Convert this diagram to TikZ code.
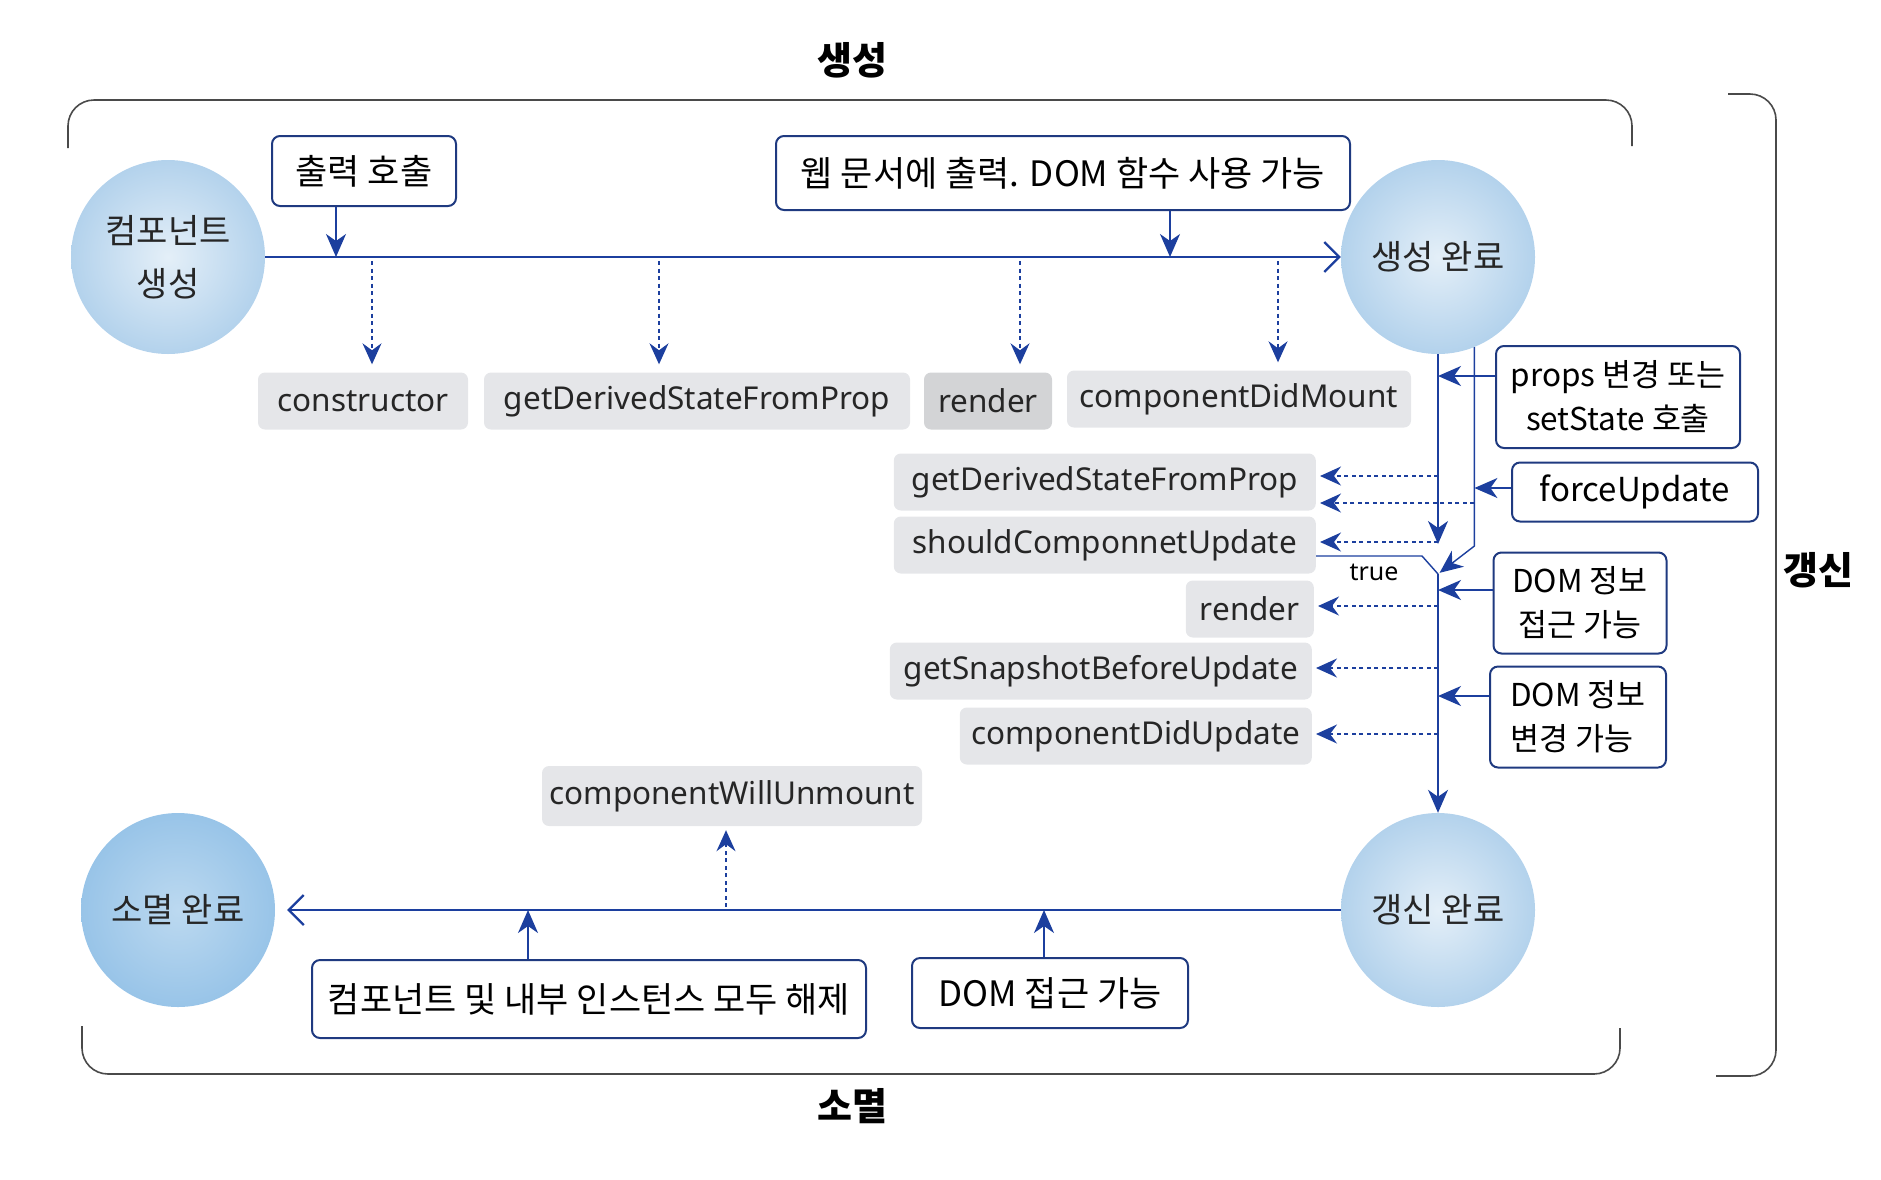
\documentclass[tikz,border=0pt]{standalone}
\usepackage{fontspec}
\setmainfont{Noto Sans CJK KR}
\newfontfamily\latinfont{Noto Sans}
\usepackage{xcolor}
\usetikzlibrary{arrows.meta, positioning}
\definecolor{flowblue}{HTML}{1C3F9E}
\definecolor{boxnavy}{HTML}{1F3A80}
\definecolor{hookgray}{HTML}{E5E6E9}
\definecolor{stageblue}{HTML}{B3D2EC}
\definecolor{stagelight}{HTML}{E4EFF8}
\definecolor{gonedeep}{HTML}{98C4E8}
\definecolor{gonelight}{HTML}{BCD9F0}
\definecolor{framegray}{HTML}{4A4A4A}
\definecolor{inkgray}{HTML}{262626}

\begin{document}
\begin{tikzpicture}[x=1pt, y=-1pt,
    stage/.style={circle, minimum size=194pt, inner sep=0pt, align=center,
        inner color=stagelight, outer color=stageblue, text=inkgray,
        font=\fontsize{34}{53}\selectfont},
    note/.style={draw=boxnavy, line width=2pt, rounded corners=8pt, fill=white,
        align=center, inner sep=0pt, font=\fontsize{35}{44}\selectfont},
    small note/.style={note, font=\fontsize{31.5}{44}\selectfont},
    hook/.style={fill=hookgray, rounded corners=7pt, inner sep=0pt, text=inkgray,
        minimum height=57pt, font=\latinfont\fontsize{31.5}{36}\selectfont},
    flow/.style={draw=flowblue, line width=2.2pt},
    call/.style={draw=flowblue, line width=1.6pt, -{Stealth[length=23pt, width=20pt, inset=7pt]}},
    hookcall/.style={draw=flowblue, line width=1.4pt, dash pattern=on 4pt off 3.5pt,
        -{Stealth[length=21pt, width=19pt, inset=7pt]}},
    bracket/.style={draw=framegray, line width=1.6pt, rounded corners=26pt},
    phase/.style={font=\bfseries\fontsize{38}{44}\selectfont},
    ]
\useasboundingbox (0,0) rectangle (1881,1179);

\node[phase] (tmount) at (852,60) {생성};
\node[phase] (tunmount) at (852,1106) {소멸};
\node[phase] (tupdate) at (1818,570) {갱신};
\draw[bracket] (68,148) -- (68,100) -- (1632,100) -- (1632,146);
\draw[bracket] (82,1026) -- (82,1074) -- (1620,1074) -- (1620,1028);
\draw[bracket] (1728,94) -- (1776,94) -- (1776,1076) -- (1716,1076);

\node[stage] (born) at (168,257) {컴포넌트\\생성};
\node[stage] (mounted) at (1438,257) {생성 완료};
\node[stage] (updated) at (1438,910) {갱신 완료};
\node[stage, inner color=gonelight, outer color=gonedeep] (unmounted) at (178,910) {소멸 완료};

\node[note, minimum width=184pt, minimum height=70pt] (callout) at (364,171) {출력 호출};
\node[note, minimum width=574pt, minimum height=74pt] (webout) at (1063,173) {웹 문서에 출력. DOM 함수 사용 가능};
\node[small note, minimum width=244pt, minimum height=102pt] (propset) at (1618,397) {props 변경 또는\\setState 호출};
\node[note, minimum width=246pt, minimum height=59pt, font=\fontsize{33}{40}\selectfont] (force) at (1635,492) {forceUpdate};
\node[small note, minimum width=173pt, minimum height=101pt] (domread) at (1580,603) {DOM 정보\\접근 가능};
\node[small note, minimum width=176pt, minimum height=101pt, align=left] (domwrite) at (1578,717) {DOM 정보\\변경 가능};
\node[note, minimum width=554pt, minimum height=78pt] (release) at (589,999) {컴포넌트 및 내부 인스턴스 모두 해제};
\node[note, minimum width=276pt, minimum height=70pt] (domuse) at (1050,993) {DOM 접근 가능};

\node[hook, minimum width=210pt] (ctor) at (363,401) {constructor};
\node[hook, minimum width=426pt] (gdsfp) at (697,401) {getDerivedStateFromProp};
\node[hook, minimum width=128pt, fill=hookgray!92!black] (render) at (988,401) {render};
\node[hook, minimum width=344pt] (didmount) at (1239,399) {componentDidMount};
\node[hook, minimum width=422pt, anchor=east] (gdsfp2) at (1316,482) {getDerivedStateFromProp};
\node[hook, minimum width=422pt, anchor=east] (scu) at (1316,545) {shouldComponnetUpdate};
\node[hook, minimum width=128pt, anchor=east] (render2) at (1314,609) {render};
\node[hook, minimum width=422pt, anchor=east] (gsbu) at (1312,671) {getSnapshotBeforeUpdate};
\node[hook, minimum width=352pt, anchor=east] (didupdate) at (1312,736) {componentDidUpdate};
\node[hook, minimum width=380pt, minimum height=60pt] (willunmount) at (732,796) {componentWillUnmount};

\draw[flow, -{Straight Barb[length=15pt, width=30pt]}] (born) -- (mounted);
\draw[call] ([xshift=-28pt]callout.south) -- ([xshift=-28pt]callout.south |- born);
\draw[call] ([xshift=107pt]webout.south) -- ([xshift=107pt]webout.south |- born);
\foreach \hk/\dx in {ctor/9, gdsfp/-38, render/32, didmount/39}
  \draw[hookcall, shorten <=4pt, shorten >=8pt] ([xshift=\dx pt]\hk.north |- born) -- ([xshift=\dx pt]\hk.north);

\coordinate (merge) at (1438,574);
\coordinate (leftend) at (1438,544);
\draw[call, line width=1.4pt] (mounted.south) -- (leftend);
\draw[call, line width=1.4pt, shorten >=2pt] (mounted.-68) -- (mounted.-68 |- 0,546) -- (merge);
\draw[flowblue, line width=1.4pt] ([yshift=-11pt]scu.east) -- ++(106,0) -- (merge);
\node[font=\latinfont\fontsize{25}{28}\selectfont] (truelbl) at (1374,572) {true};
\draw[call, line width=1.4pt] (merge) -- (updated.north);

\foreach \hk/\yy in {gdsfp2/476, scu/542, render2/606, gsbu/668, didupdate/734}
  \draw[hookcall, shorten >=4pt] (mounted.south |- 0,\yy) -- (\hk.east |- 0,\yy);
\draw[hookcall, shorten >=4pt] (mounted.-68 |- 0,503) -- (gdsfp2.east |- 0,503);

\draw[call] ([yshift=21pt]propset.west) -- ([yshift=21pt]propset.west -| mounted.south);
\draw[call] ([yshift=4pt]force.west) -- ([yshift=4pt]force.west -| mounted.-68);
\draw[call] ([yshift=13pt]domread.west) -- ([yshift=13pt]domread.west -| mounted.south);
\draw[call] ([yshift=21pt]domwrite.west) -- ([yshift=21pt]domwrite.west -| mounted.south);

\draw[flow, -{Straight Barb[length=15pt, width=30pt]}, shorten >=12pt] (updated) -- (unmounted);
\draw[hookcall, shorten <=3pt, shorten >=4pt] ([xshift=-6pt]willunmount.south |- updated) -- ([xshift=-6pt]willunmount.south);
\draw[call] ([xshift=-61pt]release.north) -- ([xshift=-61pt]release.north |- updated);
\draw[call] ([xshift=-6pt]domuse.north) -- ([xshift=-6pt]domuse.north |- updated);
\end{tikzpicture}
\end{document}
